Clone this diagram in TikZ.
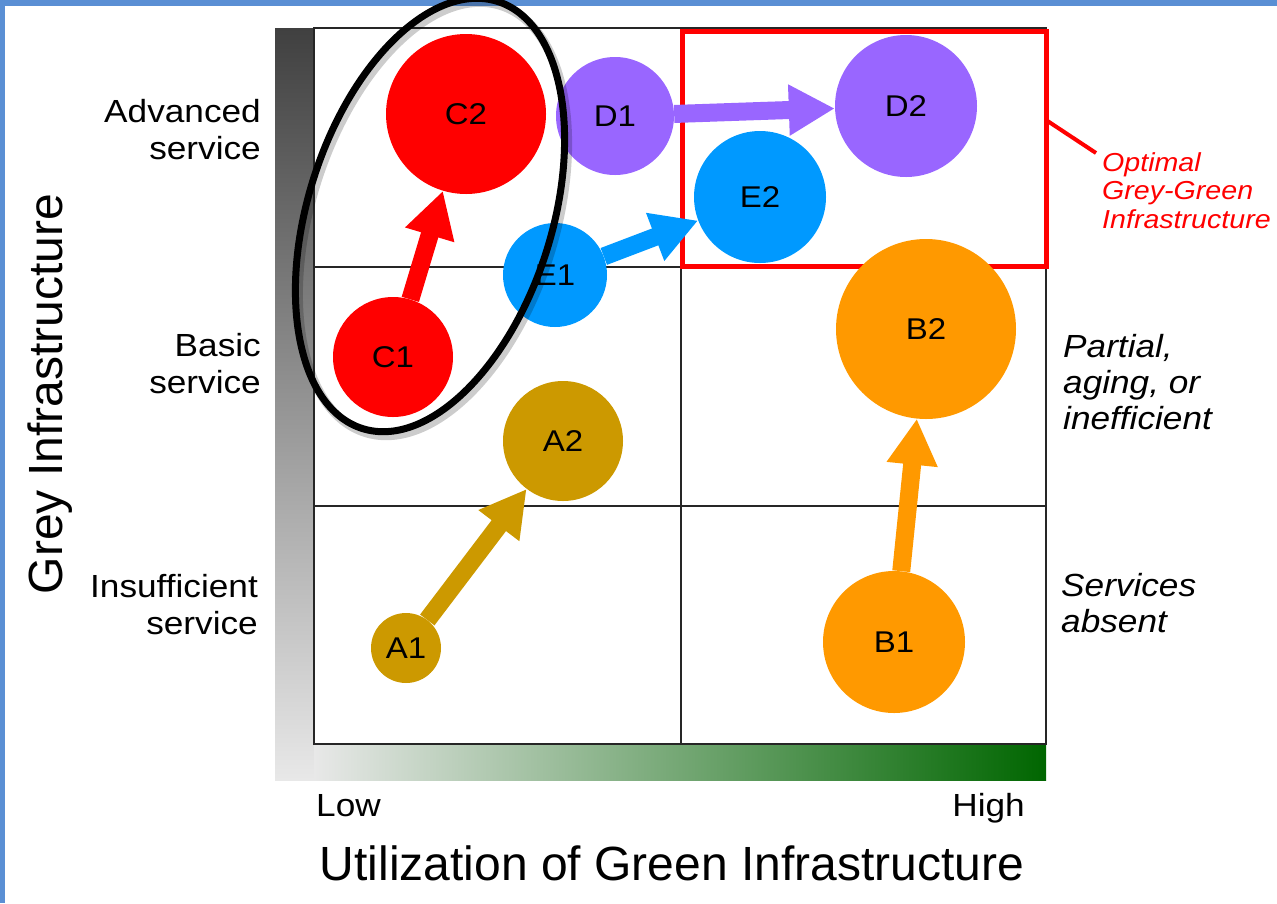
\documentclass[tikz,border=0pt]{standalone}
\usepackage{fontspec}
\setmainfont{Liberation Sans}
\newfontfamily\widesans[FakeStretch=1.1]{Liberation Sans}
\usepackage{tikz}
\usetikzlibrary{arrows.meta,shadows}

\definecolor{frameblue}{HTML}{5A8FD4}
\definecolor{greytop}{HTML}{404040}
\definecolor{greylow}{HTML}{E8E8E8}
\definecolor{greenhigh}{HTML}{006600}
\definecolor{cred}{HTML}{FF0000}
\definecolor{cpurple}{HTML}{9966FF}
\definecolor{cblue}{HTML}{0099FF}
\definecolor{cgold}{HTML}{CC9900}
\definecolor{corange}{HTML}{FF9900}

\begin{document}
\begin{tikzpicture}[x=1pt,y=-1pt,
  bubble/.style={circle, inner sep=0pt, minimum size=#1, font=\widesans\fontsize{30}{30}\selectfont},
  shiftarrow/.style={line width=18pt, -{Triangle[length=46pt,width=48pt]}},
  sidetext/.style={inner sep=0pt, font=\widesans\fontsize{32}{37}\selectfont}]
\useasboundingbox (0,0) rectangle (1277,903);

% slide frame
\fill [frameblue] (0,0) rectangle (1277,6);
\fill [frameblue] (0,0) rectangle (5,903);

% axis bars
\shade [top color=greytop, bottom color=greylow] (275,28) rectangle (314,780);
\shade [left color=greylow, right color=greenhigh] (314,744) rectangle (1046,780);

% grid
\draw [black!85, line width=1.4pt] (314,28) rectangle (1046,744);
\draw [black!85, line width=1.4pt] (681,28) -- (681,744);
\foreach \y in {267,506}
  \draw [black!85, line width=1.4pt] (314,\y) -- (1046,\y);

% optimal zone
\draw [cred, line width=5pt] (682,31) rectangle (1046,266);
\coordinate (zone) at (1046,120);

% bubbles
\node [bubble=70pt, fill=cgold] (A1) at (406,648) {A1};
\node [bubble=120pt, fill=cgold] (A2) at (563,441) {A2};
\node [bubble=142pt, fill=corange] (B1) at (894,642) {B1};
\node [bubble=180pt, fill=corange] (B2) at (926,329) {B2};
\node [bubble=120pt, fill=cred] (C1) at (393,357) {C1};
\node [bubble=160pt, fill=cred] (C2) at (466,114) {C2};
\node [bubble=118pt, fill=cpurple] (D1) at (615,116) {D1};
\node [bubble=142pt, fill=cpurple] (D2) at (906,106) {D2};
\node [bubble=104pt, fill=cblue] (E1) at (555,275) {E1};
\node [bubble=132pt, fill=cblue] (E2) at (760,197) {E2};

% moves
\draw [shiftarrow, cgold] (A1) -- (A2);
\draw [shiftarrow, corange] (B1) -- (B2);
\draw [shiftarrow, cred] (C1) -- (C2);
\draw [shiftarrow, cpurple] (D1) -- (D2);
\draw [shiftarrow, cblue] (E1) -- (E2);

% ring round C1 and C2
\draw [black, opacity=0.2, line width=9pt, rotate around={-17.6:(433,219)}] (433,219) ellipse [x radius=122, y radius=224];
\draw [black, line width=7pt, rotate around={-17.6:(430,215)}] (430,215) ellipse [x radius=122, y radius=224];

% row labels
\node [sidetext, align=right, anchor=east] (adv) at (261,130) {Advanced\\service};
\node [sidetext, align=right, anchor=east] (bas) at (261,364) {Basic\\service};
\node [sidetext, align=right, anchor=east] (ins) at (258,605) {Insufficient\\service};
\node [sidetext, align=left, anchor=west, font=\widesans\fontsize{32}{36}\itshape] (part) at (1063,382) {Partial,\\aging, or\\inefficient};
\node [sidetext, align=left, anchor=west, font=\widesans\fontsize{32}{36}\itshape] (abs) at (1061,603) {Services\\absent};

% callout
\node [inner sep=0pt, align=left, anchor=north west, text=cred, font=\widesans\fontsize{26}{28.5}\itshape] (optimal) at (1102,152) {Optimal\\Grey-Green\\Infrastructure};
\draw [cred, line width=4pt] (zone) -- ([shift={(-6,1)}]optimal.north west);

% axes
\node [inner sep=0pt, anchor=base west, font=\widesans\fontsize{32}{32}\selectfont] (low) at (316,816) {Low};
\node [inner sep=0pt, anchor=base east, font=\widesans\fontsize{32}{32}\selectfont] (high) at (1025,816) {High};
\node [inner sep=0pt, anchor=base, font=\fontsize{48}{48}\selectfont] (xlab) at (672,880) {Utilization of Green Infrastructure};
\node [inner sep=0pt, anchor=base, rotate=90, font=\fontsize{48}{48}\selectfont] (ylab) at (62,394) {Grey Infrastructure};
\end{tikzpicture}
\end{document}
